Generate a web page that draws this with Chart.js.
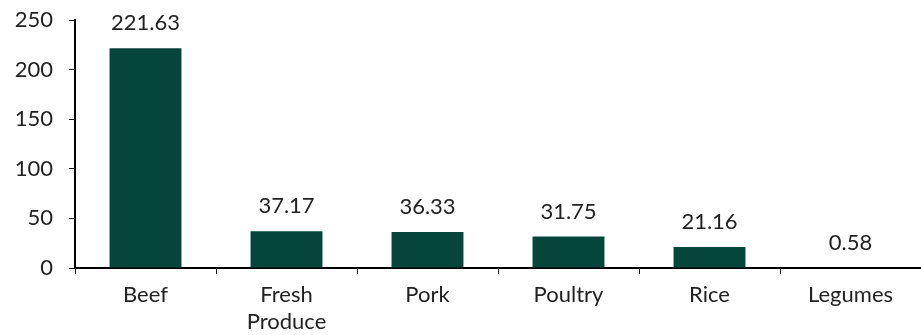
<!DOCTYPE html>
<html>
<head>
<meta charset="utf-8">
<script src="https://cdn.jsdelivr.net/npm/chart.js@4/dist/chart.umd.min.js"></script>
<style>
    html, body { margin: 0; padding: 0; background: #ffffff; }
    #wrap { width: 921px; height: 335px; }
</style>
</head>
<body>
<div id="wrap"><canvas id="chart"></canvas></div>
<script>
// data
const categories = ['Beef', ['Fresh', 'Produce'], 'Pork', 'Poultry', 'Rice', 'Legumes'];
const values = [221.63, 37.17, 36.33, 31.75, 21.16, 0.58];
const yTicks = [0, 50, 100, 150, 200, 250];

const BAR = '#06463a';
const TEXT = '#222222';
const FONT = 'Lato';

// value labels above each bar
const valueLabels = {
    id: 'valueLabels',
    afterDatasetsDraw(chart) {
        const { ctx } = chart;
        const meta = chart.getDatasetMeta(0);
        ctx.save();
        ctx.font = `22px ${FONT}`;
        ctx.fillStyle = TEXT;
        ctx.textAlign = 'center';
        ctx.textBaseline = 'middle';
        meta.data.forEach((bar, i) => {
            ctx.fillText(values[i].toFixed(2), bar.x, bar.y - 25);
        });
        ctx.restore();
    }
};

new Chart(document.getElementById('chart'), {
    type: 'bar',
    data: {
        labels: categories,
        datasets: [{
            data: values,
            backgroundColor: BAR,
            borderWidth: 0,
            categoryPercentage: 0.51,
            barPercentage: 1,
        }],
    },
    options: {
        responsive: true, maintainAspectRatio: false,
        animation: false,
        layout: { padding: { top: 20, right: 0, left: 0, bottom: 0 } },
        plugins: { legend: { display: false }, tooltip: { enabled: false } },
        scales: {
            y: {
                min: 0, max: 250,
                afterBuildTicks: axis => { axis.ticks = yTicks.map(v => ({ value: v })); },
                afterFit: axis => { axis.width = 75; axis.paddingTop = 0; axis.paddingBottom = 0; },
                grid: { drawOnChartArea: false, tickLength: 6, color: '#000' },
                border: { color: '#000', width: 2 },
                ticks: { font: { family: FONT, size: 22 }, color: TEXT, padding: 16 },
            },
            x: {
                afterFit: axis => { axis.height = 67; axis.paddingLeft = 0; axis.paddingRight = 0; },
                grid: { drawOnChartArea: false, tickLength: 6, color: '#000', offset: true },
                border: { color: '#000', width: 2 },
                ticks: { font: { family: FONT, size: 22, lineHeight: 1.2 }, color: TEXT, padding: 8, maxRotation: 0 },
            },
        },
    },
    plugins: [valueLabels],
});
</script>
</body>
</html>
